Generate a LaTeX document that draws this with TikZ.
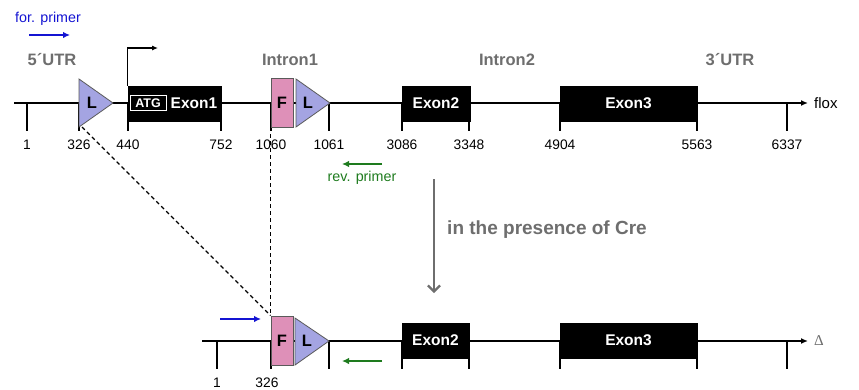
\documentclass[tikz,border=0pt]{standalone}
\usepackage{fontspec}
\setmainfont{Liberation Sans}
\newfontfamily\serifgreek{Liberation Serif}
\usetikzlibrary{arrows.meta}
\definecolor{headgray}{HTML}{6E6E6E}
\definecolor{loxfill}{HTML}{A4A4E2}
\definecolor{frtfill}{HTML}{DE90B8}
\definecolor{edgegray}{HTML}{5A5A5A}
\definecolor{fwdblue}{HTML}{1414D2}
\definecolor{revgreen}{HTML}{1E7B1E}

\begin{document}
\begin{tikzpicture}[x=1pt,y=-1pt,
  backbone/.style={line width=1.6pt,-{Latex[length=7pt,width=6pt]}},
  tickmark/.style={line width=1.5pt},
  exonbox/.style={fill=black,draw=black,inner sep=0pt,minimum height=35pt},
  exonlabel/.style={text=white,font=\bfseries\fontsize{15.5}{17}\selectfont,inner sep=0pt},
  numlabel/.style={font=\fontsize{13.8}{15}\selectfont,inner sep=0pt},
  heading/.style={text=headgray,font=\bfseries\fontsize{16.5}{18}\selectfont,inner sep=0pt},
  loxp/.style={fill=loxfill,draw=edgegray,line width=0.8pt},
  frtbox/.style={fill=frtfill,draw=edgegray,line width=0.8pt,minimum width=22pt,minimum height=49pt,inner sep=0pt},
  sitelabel/.style={font=\bfseries\fontsize{16.5}{18}\selectfont,inner sep=0pt},
  primer/.style={line width=2pt,-{Latex[length=7pt,width=6.5pt]}},
  primerlabel/.style={font=\fontsize{14.3}{16}\selectfont,inner sep=0pt},
  cut/.style={line width=1.1pt,dash pattern=on 4pt off 3pt}
]
\useasboundingbox (0,0) rectangle (859,389);

% ---------- floxed allele ----------
\coordinate (topstart) at (14,103);
\coordinate (topend) at (808,103);
\draw[backbone] (topstart) -- (topend);
\node[anchor=west,font=\fontsize{15}{17}\selectfont,inner sep=0pt] (flox) at (814,103) {flox};

% position ticks and numbers
\foreach \x/\lab in {27/1,79/326,128/440,221/752,271/1060,329/1061,402/3086,469/3348,560/4904,697/5563,787/6337}{
  \draw[tickmark] (\x,103) -- (\x,131);
  \node[numlabel] (n\lab) at (\x,145) {\lab};
}

% loxP site 1
\coordinate (loxAa) at (79,79);
\coordinate (loxAb) at (113,103);
\coordinate (loxAc) at (79,127);
\draw[loxp] (loxAa) -- (loxAb) -- (loxAc) -- cycle;
\node[sitelabel] (loxA) at (92,103) {L};

% exon 1 with start codon and transcription start
\node[exonbox,minimum width=93pt] (ex1) at (174.5,103.5) {};
\node[draw=white,line width=0.8pt,text=white,font=\bfseries\fontsize{12.5}{14}\selectfont,
      minimum width=36pt,minimum height=15pt,inner sep=0pt] (atg) at (148,103) {ATG};
\node[exonlabel] (ex1lab) at (194,103) {Exon1};
\coordinate (tss) at (158,48);
\draw[line width=1.1pt,-{Latex[length=6pt,width=5pt]}] (ex1.north west) |- (tss);

% FRT + loxP site 2
\node[frtbox] (frtA) at (282,102.5) {};
\node[sitelabel] at (frtA) {F};
\coordinate (loxBa) at (296,79);
\coordinate (loxBb) at (330,103);
\coordinate (loxBc) at (296,127);
\draw[loxp] (loxBa) -- (loxBb) -- (loxBc) -- cycle;
\node[sitelabel] (loxB) at (308,103) {L};

% exons 2 and 3
\node[exonbox,minimum width=68pt] (ex2) at (436,103.5) {};
\node[exonlabel] at (ex2) {Exon2};
\node[exonbox,minimum width=137pt] (ex3) at (628.5,103.5) {};
\node[exonlabel] at (ex3) {Exon3};

% region headings
\node[heading] (utr5) at (52,60) {5´UTR};
\node[heading] (intr1) at (290,60) {Intron1};
\node[heading] (intr2) at (507,60) {Intron2};
\node[heading] (utr3) at (730,60) {3´UTR};

% primers on the floxed allele
\coordinate (fA1) at (29,35);
\coordinate (fA2) at (70,35);
\draw[primer,fwdblue] (fA1) -- (fA2);
\node[primerlabel,text=fwdblue] (fwdlab) at (48,19) {for. primer};
\coordinate (rA1) at (382,164);
\coordinate (rA2) at (342,164);
\draw[primer,revgreen] (rA1) -- (rA2);
\node[primerlabel,text=revgreen] (revlab) at (362,178) {rev. primer};

% recombination step
\coordinate (creA) at (434,179);
\coordinate (creB) at (434,293);
\draw[line width=2.2pt,headgray,-{Straight Barb[length=6pt,width=12pt]}] (creA) -- (creB);
\node[heading,font=\bfseries\fontsize{19}{21}\selectfont] (cre) at (547,230) {in the presence of Cre};

% ---------- deleted allele ----------
\coordinate (botstart) at (202,341);
\coordinate (botend) at (808,341);
\draw[backbone] (botstart) -- (botend);
\node[anchor=west,text=headgray,font=\serifgreek\fontsize{15}{17}\selectfont,inner sep=0pt] (delta) at (814,341) {Δ};

\foreach \x in {217,271,329,402,469,560,697,787}{
  \draw[tickmark] (\x,341) -- (\x,369);
}
\node[numlabel] (b1) at (217,383) {1};
\node[numlabel] (b326) at (267,383) {326};

\node[frtbox] (frtB) at (282,340.5) {};
\node[sitelabel] at (frtB) {F};
\coordinate (loxCa) at (295,318);
\coordinate (loxCb) at (329,341);
\coordinate (loxCc) at (295,365);
\draw[loxp] (loxCa) -- (loxCb) -- (loxCc) -- cycle;
\node[sitelabel] (loxC) at (307,341) {L};

\node[exonbox,minimum width=67pt] (ex2b) at (435.5,340.5) {};
\node[exonlabel] at (ex2b) {Exon2};
\node[exonbox,minimum width=137pt] (ex3b) at (628.5,340.5) {};
\node[exonlabel] at (ex3b) {Exon3};

% primers on the deleted allele
\coordinate (fB1) at (220,319);
\coordinate (fB2) at (261,319);
\draw[primer,fwdblue] (fB1) -- (fB2);
\coordinate (rB1) at (382,361);
\coordinate (rB2) at (342,361);
\draw[primer,revgreen] (rB1) -- (rB2);

% deleted stretch between the two alleles
\coordinate (cutstart) at (82,127);
\draw[cut] (cutstart) -- (frtB.north west);
\draw[cut] (frtA.south west) -- (frtB.north west);
\end{tikzpicture}
\end{document}
